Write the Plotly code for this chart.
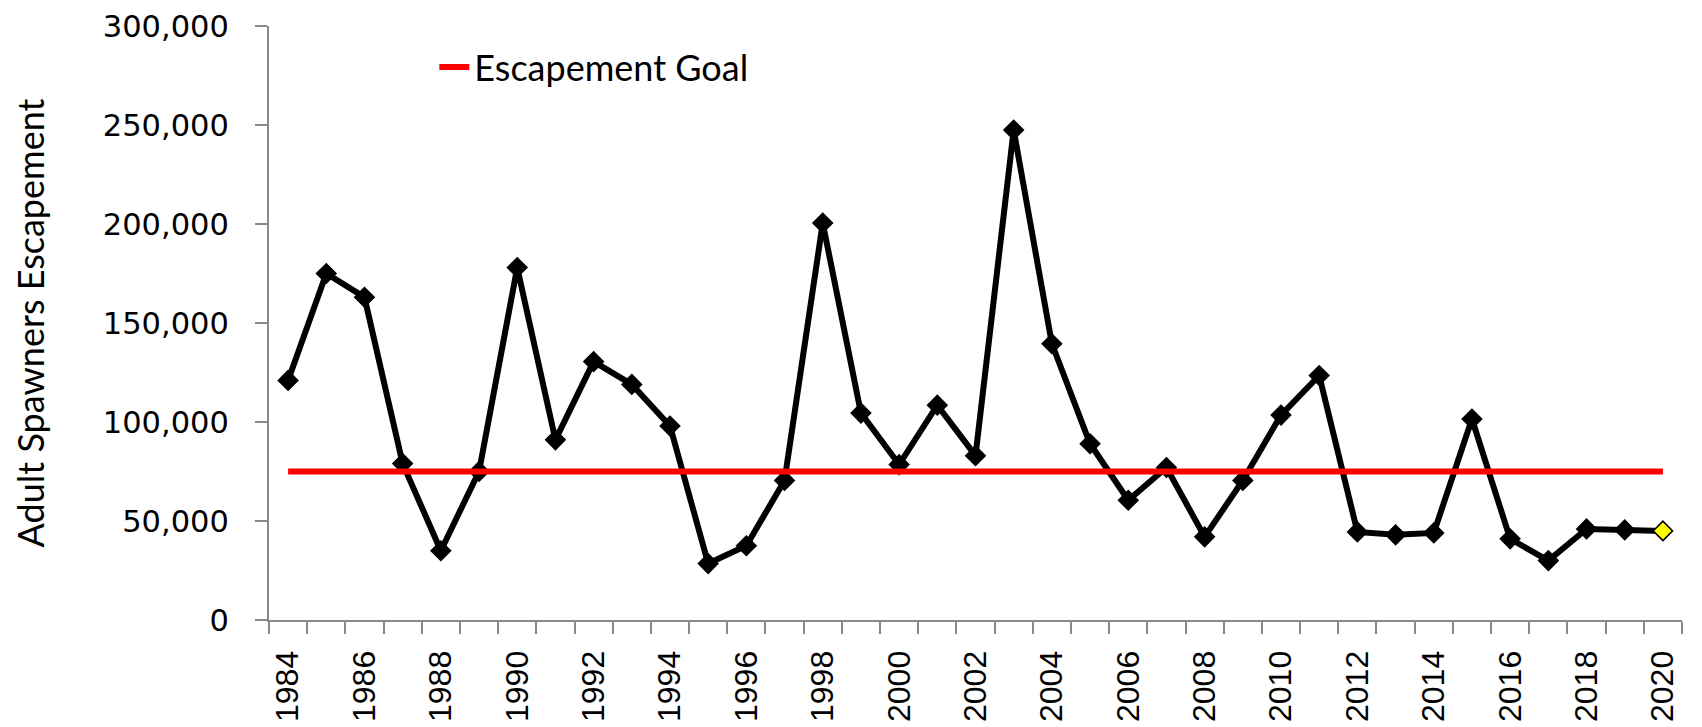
import plotly.graph_objects as go

years = list(range(1984, 2021))
escapement = [121000, 175000, 163000, 79000, 35000, 75000, 178000, 91000, 130500, 119000,
              98000, 28500, 37500, 70500, 200500, 104500, 78500, 108500, 83000, 247500,
              139500, 89000, 60500, 77000, 42000, 70500, 103500, 123500, 44500, 43000,
              44000, 101500, 41000, 30000, 46000, 45500, 45000]
goal_value = 75000
even_years = [y for y in years if y % 2 == 0]
boundaries = [y - 0.5 for y in years] + [years[-1] + 0.5]

marker_colors = ["black"] * (len(years) - 1) + ["#FFFF00"]

fig = go.Figure()
fig.add_trace(go.Scatter(
    x=years, y=escapement, mode="lines+markers", showlegend=False,
    line=dict(color="black", width=6),
    marker=dict(symbol="diamond", size=15, color=marker_colors,
                line=dict(color="black", width=1.5)),
))
fig.add_trace(go.Scatter(
    x=years, y=[goal_value] * len(years), mode="lines", name="Escapement Goal",
    line=dict(color="#FF0000", width=6),
))

axis_gray = "#898989"
fig.update_layout(
    width=1702, height=727,
    margin=dict(l=255, r=28, t=18, b=115),
    paper_bgcolor="white", plot_bgcolor="white",
    legend=dict(x=0.117, y=0.931, xanchor="left", yanchor="middle",
                font=dict(family="Lato, Carlito, sans-serif", size=36, color="black"),
                bgcolor="rgba(0,0,0,0)"),
    xaxis=dict(range=[1983.5, 2020.5], tickmode="array", tickvals=even_years,
               ticktext=[str(y) for y in even_years], tickangle=-90,
               ticks="", showgrid=False, zeroline=False, automargin=False,
               showline=True, linecolor=axis_gray, linewidth=2,
               ticklabelstandoff=16,
               tickfont=dict(family="Liberation Sans, Arial, sans-serif", size=32, color="black"),
               minor=dict(tickmode="array", tickvals=boundaries, ticks="outside",
                          ticklen=12, tickwidth=2, tickcolor=axis_gray, showgrid=False)),
    yaxis=dict(range=[0, 300000], tickmode="linear", tick0=0, dtick=50000,
               tickformat=",", ticks="outside", ticklen=12, tickwidth=2, tickcolor=axis_gray,
               showgrid=False, zeroline=False, showline=True, linecolor=axis_gray, linewidth=2,
               automargin="left",
               ticklabelstandoff=20,
               tickfont=dict(family="DejaVu Sans, sans-serif", size=30.5, color="black"),
               title=dict(text="Adult Spawners Escapement", standoff=58,
                          font=dict(family="Lato, Carlito, sans-serif", size=36, color="black"))),
)

fig.write_html("out.html")
